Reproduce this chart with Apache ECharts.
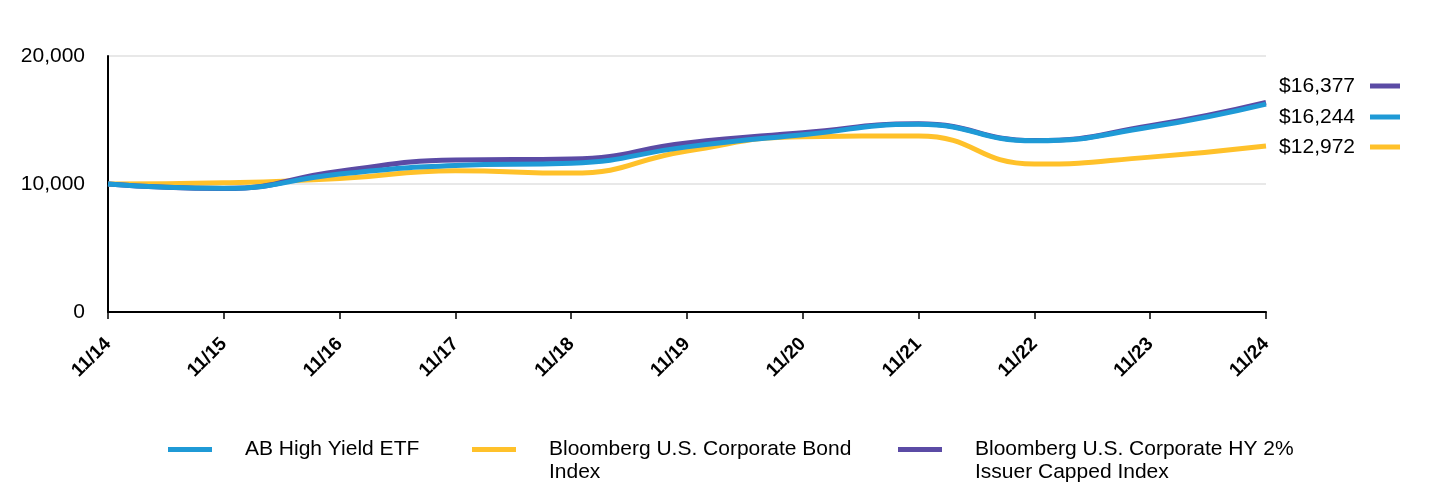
<!DOCTYPE html>
<html>
<head>
<meta charset="utf-8">
<script src="https://cdn.jsdelivr.net/npm/echarts@6/dist/echarts.min.js"></script>
<style>html,body{margin:0;padding:0;background:#fff;}#c{width:1440px;height:492px;}</style>
</head>
<body>
<div id="c"></div>
<script>
var categories = ['11/14','11/15','11/16','11/17','11/18','11/19','11/20','11/21','11/22','11/23','11/24'];
var abHighYield = [10000, 9660, 10780, 11450, 11620, 12900, 13850, 14660, 13380, 14450, 16244];
var corpBond = [10000, 10100, 10420, 11040, 10850, 12580, 13700, 13750, 11560, 12100, 12972];
var hyCapped = [10000, 9650, 11000, 11870, 11950, 13200, 14000, 14700, 13400, 14550, 16377];
var yTicks = [0, 10000, 20000];

var names = ['AB High Yield ETF', 'Bloomberg U.S. Corporate Bond\nIndex', 'Bloomberg U.S. Corporate HY 2%\nIssuer Capped Index'];
var colors = ['#1f9ad6', '#ffc12a', '#5b4ba5'];

function fmt(v){ return v.toString().replace(/\B(?=(\d{3})+(?!\d))/g, ','); }

var font = 'Liberation Sans, Arial, sans-serif';
var chart = echarts.init(document.getElementById('c'));

var endLabels = [
  {v: hyCapped[hyCapped.length-1], c: colors[2], y: 86},
  {v: abHighYield[abHighYield.length-1], c: colors[0], y: 117},
  {v: corpBond[corpBond.length-1], c: colors[1], y: 147}
];
var graphics = [];
endLabels.forEach(function(e){
  graphics.push({type:'text', x:1355, y:e.y, style:{text:'$'+fmt(e.v), fill:'#000', font:'21px '+font, textAlign:'right', textVerticalAlign:'middle'}});
  graphics.push({type:'rect', shape:{x:1370, y:e.y-2.5, width:30, height:5}, style:{fill:e.c}});
});

function mkLegend(i, left, twoLine){
  return {
    data:[names[i]], left:left, top: twoLine ? 410 : 433, orient:'horizontal',
    itemWidth:44, itemHeight:5, icon:'rect',
    formatter: function(n){ return twoLine ? '\n' + n : n; },
    textStyle:{fontFamily:font, fontSize:21, color:'#000', padding:[0,0,0,28], lineHeight:23},
    itemStyle:{color:colors[i]}
  };
}

chart.setOption({
  animation:false,
  textStyle:{fontFamily:font},
  grid:{left:108, right:174, top:56, bottom:180},
  legend:[mkLegend(0,163,false), mkLegend(1,467,true), mkLegend(2,893,true)],
  graphic:graphics,
  xAxis:{
    type:'category', data:categories, boundaryGap:false,
    axisLine:{lineStyle:{color:'#000', width:2}},
    axisTick:{show:true, length:7, lineStyle:{color:'#000', width:1.5}},
    axisLabel:{rotate:45, fontWeight:'bold', fontSize:19, color:'#000', margin:29, fontFamily:font}
  },
  yAxis:{
    type:'value', min:yTicks[0], max:yTicks[yTicks.length-1], interval:10000,
    axisLine:{show:true, lineStyle:{color:'#000', width:2}},
    axisTick:{show:false},
    splitLine:{lineStyle:{color:'#e0e0e0', width:1.5}},
    axisLabel:{fontSize:21, color:'#000', margin:23, formatter:function(v){return fmt(v);}, fontFamily:font}
  },
  series:[
    {name:names[1], type:'line', data:corpBond, smooth:0.5, symbol:'none', z:2, lineStyle:{color:colors[1], width:5}, itemStyle:{color:colors[1]}},
    {name:names[2], type:'line', data:hyCapped, smooth:0.5, symbol:'none', z:3, lineStyle:{color:colors[2], width:5}, itemStyle:{color:colors[2]}},
    {name:names[0], type:'line', data:abHighYield, smooth:0.5, symbol:'none', z:4, lineStyle:{color:colors[0], width:5}, itemStyle:{color:colors[0]}}
  ]
});
</script>
</body>
</html>
